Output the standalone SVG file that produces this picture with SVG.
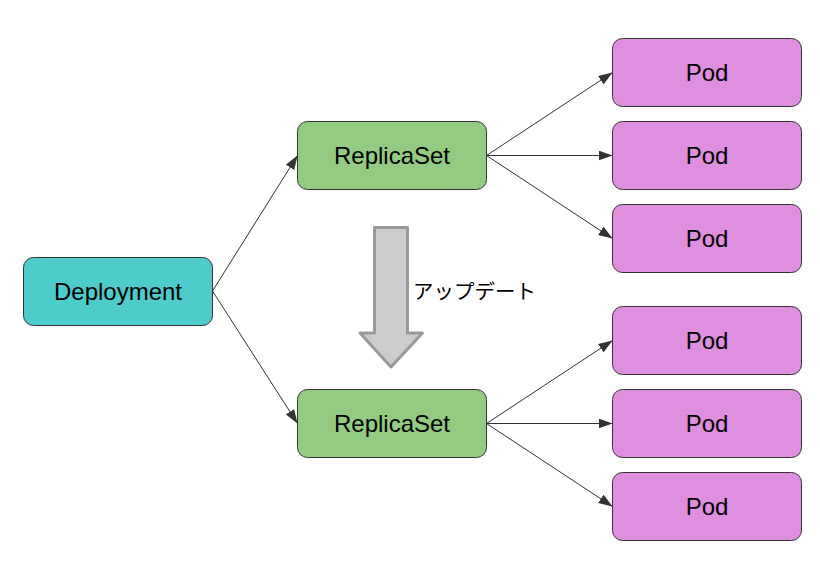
<svg xmlns="http://www.w3.org/2000/svg" width="820" height="582" viewBox="0 0 820 582">
<style>
.box{stroke:#333;stroke-width:1}
.dep{fill:#4ECBCB}
.rs{fill:#93CB82}
.pod{fill:#DE8FDE}
.lbl{font-family:"Liberation Sans",Arial,sans-serif;font-size:24px;fill:#000;text-anchor:middle;dominant-baseline:central}
.edge{stroke:#333;stroke-width:1;fill:none;marker-end:url(#ah)}
</style>
<defs>
<marker id="ah" viewBox="0 0 14 10" refX="14" refY="5" markerWidth="14" markerHeight="10" markerUnits="userSpaceOnUse" orient="auto">
<path d="M0,0 L14,5 L0,10 Z" fill="#333"/>
</marker>
</defs>
<rect width="820" height="582" fill="#fff"/>
<g id="connectors">
<path class="edge" d="M212.5,291 L297.5,155.5"/>
<path class="edge" d="M212.5,291 L297.5,423.5"/>
<path class="edge" d="M486.5,155.5 L612.5,72.5"/>
<path class="edge" d="M486.5,155.5 L612.5,155.5"/>
<path class="edge" d="M486.5,155.5 L612.5,238.5"/>
<path class="edge" d="M486.5,423.5 L612.5,340.5"/>
<path class="edge" d="M486.5,423.5 L612.5,423.5"/>
<path class="edge" d="M486.5,423.5 L612.5,506.5"/>
</g>
<g id="update-arrow">
<path d="M374.5,227.5 L407.5,227.5 L407.5,333 L422.5,333 L391,367 L360,333 L374.5,333 Z" fill="#CCCCCC" stroke="#999" stroke-width="3" stroke-linejoin="round"/>
<text x="413" y="299" font-family="'Noto Sans CJK JP',sans-serif" font-size="20.5" fill="#000">アップデート</text>
</g>
<g id="deployment">
<rect class="box dep" x="23.5" y="257.5" width="189" height="68" rx="10"/>
<text class="lbl" x="118" y="291.5">Deployment</text>
</g>
<g id="replicaset1">
<rect class="box rs" x="297.5" y="121.5" width="189" height="68" rx="10"/>
<text class="lbl" x="392" y="155.5">ReplicaSet</text>
</g>
<g id="replicaset2">
<rect class="box rs" x="297.5" y="389.5" width="189" height="68" rx="10"/>
<text class="lbl" x="392" y="423.5">ReplicaSet</text>
</g>
<g id="pod1"><rect class="box pod" x="612.5" y="38.5" width="189" height="68" rx="10"/><text class="lbl" x="707" y="72.5">Pod</text></g>
<g id="pod2"><rect class="box pod" x="612.5" y="121.5" width="189" height="68" rx="10"/><text class="lbl" x="707" y="155.5">Pod</text></g>
<g id="pod3"><rect class="box pod" x="612.5" y="204.5" width="189" height="68" rx="10"/><text class="lbl" x="707" y="238.5">Pod</text></g>
<g id="pod4"><rect class="box pod" x="612.5" y="306.5" width="189" height="68" rx="10"/><text class="lbl" x="707" y="340.5">Pod</text></g>
<g id="pod5"><rect class="box pod" x="612.5" y="389.5" width="189" height="68" rx="10"/><text class="lbl" x="707" y="423.5">Pod</text></g>
<g id="pod6"><rect class="box pod" x="612.5" y="472.5" width="189" height="68" rx="10"/><text class="lbl" x="707" y="506.5">Pod</text></g>
</svg>
